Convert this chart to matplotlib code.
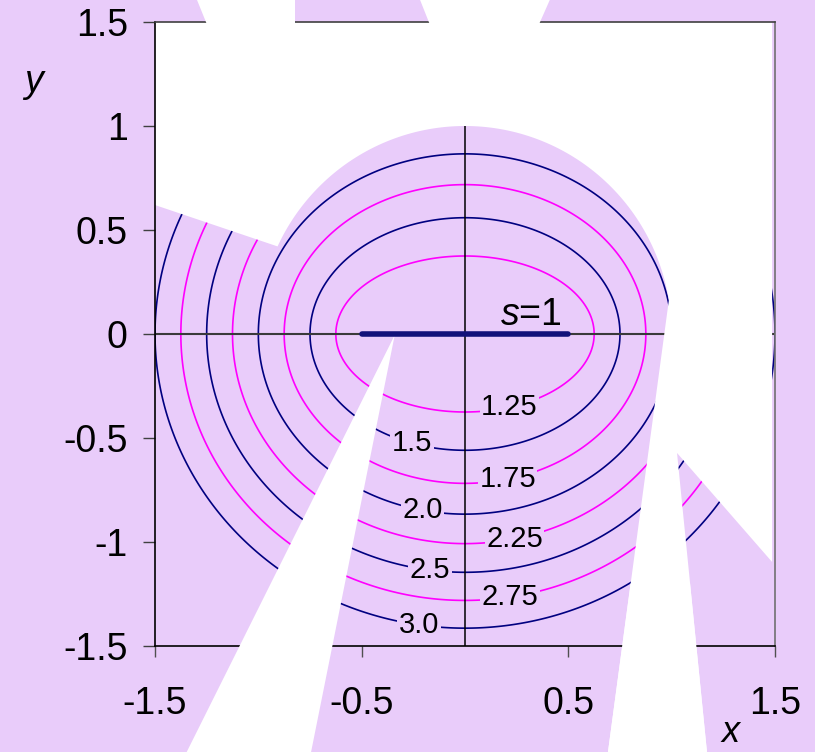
import numpy as np
import matplotlib
matplotlib.use("Agg")
import matplotlib.pyplot as plt
from matplotlib.patches import Polygon

# ---- data -------------------------------------------------------------
focus_half = 0.5                      # segment of length s = 1 from -0.5 to 0.5
levels = [1.25, 1.5, 1.75, 2.0, 2.25, 2.5, 2.75, 3.0]
level_text = ["1.25", "1.5", "1.75", "2.0", "2.25", "2.5", "2.75", "3.0"]
level_colors = ["#FF00FF", "#000080"] * 4
x_ticks = [-1.5, -0.5, 0.5, 1.5]
x_ticklabels = ["-1.5", "-0.5", "0.5", "1.5"]
y_ticks = [-1.5, -1.0, -0.5, 0.0, 0.5, 1.0, 1.5]
y_ticklabels = ["-1.5", "-1", "-0.5", "0", "0.5", "1", "1.5"]

# horizontal anchor of each inline label (layout)
label_x = [0.215, -0.256, 0.206, -0.206, 0.240, -0.169, 0.218, -0.223]

LAV = "#E9CCFA"

plt.rcParams["font.family"] = ["Liberation Sans", "DejaVu Sans"]
plt.rcParams["mathtext.fontset"] = "custom"
plt.rcParams["mathtext.rm"] = "Liberation Sans"
plt.rcParams["mathtext.it"] = "Liberation Sans:italic"

fig = plt.figure(figsize=(8.15, 7.52), dpi=100, facecolor=LAV)
ax = fig.add_axes([0.1902, 0.14096, 0.7607, 0.82979], facecolor=LAV)
ax.set_xlim(-1.5, 1.5)
ax.set_ylim(-1.5, 1.5)

# sum of distances to the two ends of the segment
gx = np.linspace(-1.5, 1.5, 601)
gy = np.linspace(-1.5, 1.5, 601)
X, Y = np.meshgrid(gx, gy)
Z = np.hypot(X - focus_half, Y) + np.hypot(X + focus_half, Y)
ax.contour(X, Y, Z, levels=levels, colors=level_colors, linewidths=1.2, zorder=2)

# inline labels sitting on the lower half of each ellipse
for L, txt, lx in zip(levels, level_text, label_x):
    a = L / 2.0
    b = np.sqrt(a * a - focus_half ** 2)
    ly = -b * np.sqrt(max(0.0, 1 - (lx / a) ** 2))
    ax.text(lx, ly, txt, ha="center", va="center", fontsize=21, color="black",
            zorder=2.6,
            bbox=dict(boxstyle="square,pad=0.05", facecolor=LAV, edgecolor="none"))

# coordinate axes through the origin
ax.axhline(0, color="#3a3a3a", lw=1.5, zorder=2.2)
ax.axvline(0, color="black", lw=1.1, zorder=2.2)

# white cut-out areas
theta = np.radians(np.linspace(9.4, 155.1, 120))
arc = np.column_stack([np.cos(theta), np.sin(theta)])
w1 = np.vstack([
    [[-1.5, 1.5], [1.486, 1.5], [1.486, -1.096], [1.026, -0.572],
     [1.176, -2.06], [0.685, -2.06]],
    arc,
    [[-1.5, 0.62]],
])
ax.add_patch(Polygon(w1, closed=True, facecolor="white", edgecolor="none",
                     zorder=3, clip_on=False))

wedges = [
    [[-0.34, -0.005], [-1.372, -2.06], [-0.755, -2.06]],
    [[0.801, -1.2], [1.089, -1.2], [1.176, -2.06], [0.685, -2.06]],
    [[-1.236, 1.45], [-0.823, 1.45], [-0.823, 1.63], [-1.305, 1.63]],
    [[-0.155, 1.45], [0.341, 1.45], [0.421, 1.63], [-0.227, 1.63]],
]
for w in wedges:
    ax.add_patch(Polygon(w, closed=True, facecolor="white", edgecolor="none",
                         zorder=5, clip_on=False))

# the segment itself
ax.plot([-focus_half, focus_half], [0, 0], color="#12127a", lw=4.0,
        solid_capstyle="round", zorder=6)
ax.text(0.17, 0.045, "$s$=1", fontsize=27, ha="left", va="baseline", zorder=6)

# frame
for side, col in [("left", "black"), ("bottom", "black"),
                  ("top", "#404040"), ("right", "#707070")]:
    ax.spines[side].set_color(col)
    ax.spines[side].set_linewidth(1.2)
    ax.spines[side].set_zorder(4)

ax.set_xticks(x_ticks)
ax.set_xticklabels(x_ticklabels)
ax.set_yticks(y_ticks)
ax.set_yticklabels(y_ticklabels)
ax.tick_params(axis="x", direction="out", length=8, width=1, color="#505050",
               labelsize=27, pad=21)
ax.tick_params(axis="y", direction="out", length=8.6, width=1, color="#404040",
               labelsize=27, pad=11)

fig.text(33 / 815, 1 - 92 / 752, "y", fontsize=27, fontstyle="italic",
         ha="center", va="baseline")
fig.text(731 / 815, 10 / 752, "x", fontsize=26, fontstyle="italic",
         ha="center", va="baseline")

fig.savefig("out.png", dpi=100, facecolor=LAV)
